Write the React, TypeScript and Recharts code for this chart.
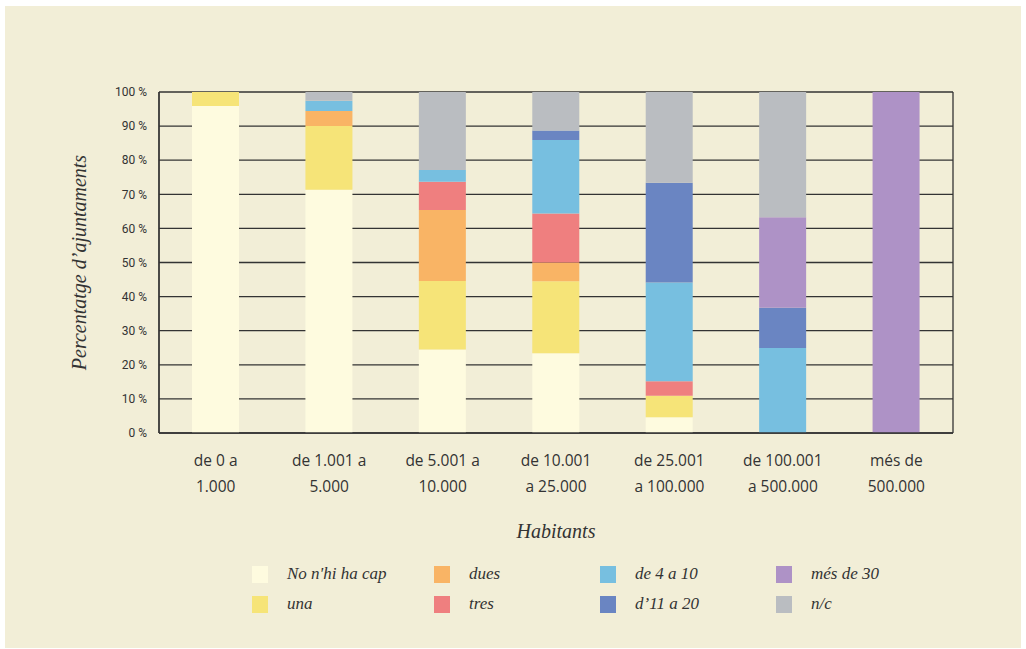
import { BarChart, Bar, XAxis, YAxis, CartesianGrid, Label } from 'recharts';

const categories = [
  ['de 0 a', '1.000'],
  ['de 1.001 a', '5.000'],
  ['de 5.001 a', '10.000'],
  ['de 10.001', 'a 25.000'],
  ['de 25.001', 'a 100.000'],
  ['de 100.001', 'a 500.000'],
  ['més de', '500.000'],
];

const noNhiHaCap = [95.9, 71.3, 24.5, 23.4, 4.6, 0, 0];
const una = [4.1, 18.7, 20.1, 21.1, 6.3, 0, 0];
const dues = [0, 4.4, 20.8, 5.5, 0, 0, 0];
const tres = [0, 0, 8.3, 14.4, 4.3, 0, 0];
const de4a10 = [0, 3.0, 3.4, 21.5, 28.9, 24.9, 0];
const de11a20 = [0, 0, 0, 2.8, 29.3, 11.8, 0];
const mesDe30 = [0, 0, 0, 0, 0, 26.6, 100];
const nc = [0, 2.6, 22.9, 11.3, 26.6, 36.7, 0];

const yTicks = [0, 10, 20, 30, 40, 50, 60, 70, 80, 90, 100];

const series = [
  { key: 'nohi', name: "No n'hi ha cap", values: noNhiHaCap, color: '#fefbdf' },
  { key: 'una', name: 'una', values: una, color: '#f6e478' },
  { key: 'dues', name: 'dues', values: dues, color: '#f9b465' },
  { key: 'tres', name: 'tres', values: tres, color: '#ef7f7f' },
  { key: 'de4a10', name: 'de 4 a 10', values: de4a10, color: '#77bfe0' },
  { key: 'de11a20', name: 'd’11 a 20', values: de11a20, color: '#6a85c2' },
  { key: 'mes30', name: 'més de 30', values: mesDe30, color: '#ae92c6' },
  { key: 'nc', name: 'n/c', values: nc, color: '#babdc1' },
];

const data = categories.map((lines, i) => {
  const row: Record<string, any> = { name: lines.join(' '), lines };
  series.forEach((s) => {
    row[s.key] = s.values[i];
  });
  return row;
});

const serif = '"Liberation Serif", "DejaVu Serif", serif';
const sans = '"Open Sans", "Noto Sans", sans-serif';
const textColor = '#333';
const gridColor = '#333';

function CategoryTick(props: any) {
  const { x, y, payload } = props;
  const lines = categories[payload.index] || [];
  return (
    <text x={x} y={y} textAnchor="middle" fill={textColor} fontFamily={sans} fontSize={15.5}>
      <tspan x={x} dy={25}>{lines[0]}</tspan>
      <tspan x={x} dy={26}>{lines[1]}</tspan>
    </text>
  );
}

function LegendBlock() {
  const cols = [
    [series[0], series[1]],
    [series[2], series[3]],
    [series[4], series[5]],
    [series[6], series[7]],
  ];
  const colLeft = [252, 434, 600, 776];
  return (
    <>
      {cols.map((col, ci) =>
        col.map((s, ri) => (
          <div
            key={s.key}
            style={{
              position: 'absolute',
              left: colLeft[ci],
              top: 565 + ri * 30,
              display: 'flex',
              alignItems: 'center',
              height: 18,
            }}
          >
            <div style={{ width: 16, height: 17, background: s.color }} />
            <span
              style={{
                marginLeft: 19,
                fontFamily: serif,
                fontStyle: 'italic',
                fontSize: 17,
                color: textColor,
                whiteSpace: 'nowrap',
              }}
            >
              {s.name}
            </span>
          </div>
        ))
      )}
    </>
  );
}

export default function App() {
  return (
    <div style={{ position: 'fixed', left: 0, top: 0, width: 1026, height: 649, background: '#ffffff' }}>
      <div
        style={{
          position: 'absolute',
          left: 5,
          top: 6,
          width: 1016,
          height: 642,
          background: '#f2eed7',
        }}
      />
      <div style={{ position: 'absolute', left: 0, top: 0 }}>
        <BarChart
          width={1026}
          height={649}
          data={data}
          margin={{ top: 92, right: 73, left: 99, bottom: 136 }}
          barSize={47}
        >
          <CartesianGrid
            stroke={gridColor}
            strokeWidth={1.3}
            verticalPoints={[159, 953]}
          />
          <XAxis
            dataKey="name"
            tick={<CategoryTick />}
            tickLine={false}
            axisLine={{ stroke: gridColor, strokeWidth: 1.3 }}
            interval={0}
            height={80}
          >
            <Label
              value="Habitants"
              position="bottom"
              offset={11}
              style={{ fontFamily: serif, fontStyle: 'italic', fontSize: 20, fill: textColor }}
            />
          </XAxis>
          <YAxis
            domain={[0, 100]}
            ticks={yTicks}
            tickFormatter={(v) => `${v} %`}
            tickLine={false}
            tickSize={0}
            tickMargin={12}
            axisLine={{ stroke: gridColor, strokeWidth: 1.3 }}
            width={60}
            tick={{ fontFamily: 'Roboto, sans-serif', fontSize: 12, fill: textColor }}
          >
            <Label
              value="Percentatge d’ajuntaments"
              angle={-90}
              position="insideLeft"
              offset={0}
              style={{ fontFamily: serif, fontStyle: 'italic', fontSize: 20, fill: textColor, textAnchor: 'middle' }}
              dx={-20}
            />
          </YAxis>
          {series.map((s) => (
            <Bar
              key={s.key}
              dataKey={s.key}
              name={s.name}
              stackId="a"
              fill={s.color}
              isAnimationActive={false}
            />
          ))}
        </BarChart>
      </div>
      <LegendBlock />
    </div>
  );
}
